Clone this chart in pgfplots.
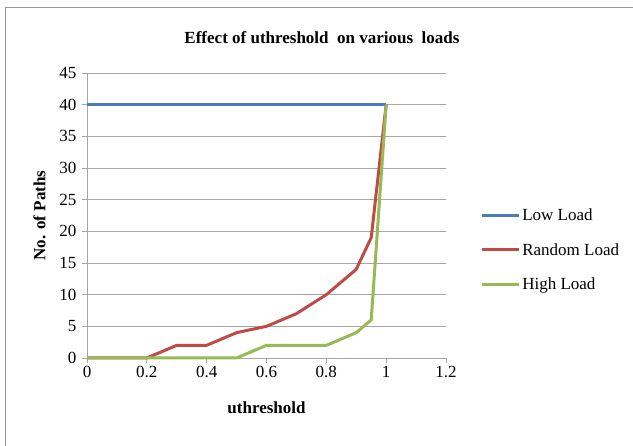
\documentclass[border=0pt]{standalone}
\usepackage{fontspec}
\setmainfont{Liberation Serif}
\usepackage{pgfplots}
\pgfplotsset{compat=1.18}
\definecolor{lowc}{HTML}{4A7EBB}
\definecolor{randc}{HTML}{BE4B48}
\definecolor{highc}{HTML}{98B954}
\begin{document}
\begin{tikzpicture}[x=1pt,y=1pt]
\useasboundingbox (0,0) rectangle (633,446);
\draw[gray!80, line width=1pt] (5,0) -- (5,438) -- (633,438);
\node[font=\fontsize{17}{19}\selectfont\bfseries] at (322,408) {Effect of uthreshold\ \ on various\ \ loads};
\begin{axis}[
  at={(87pt,88pt)}, anchor=south west,
  scale only axis, width=359pt, height=285pt,
  xmin=0, xmax=1.2, ymin=0, ymax=45,
  xtick={0,0.2,...,1.2}, ytick={0,5,...,45},
  xticklabels={0,0.2,0.4,0.6,0.8,1,1.2},
  ymajorgrids, major grid style={gray!70, line width=0.8pt},
  axis x line*=bottom, axis y line*=left,
  axis line style={gray!70, line width=0.8pt, -},
  tick style={gray!70, line width=0.8pt},
  tick align=outside, major tick length=5pt,
  ticklabel style={font=\fontsize{17}{19}\selectfont},
  yticklabel style={xshift=-2pt},
  /pgf/number format/assume math mode=true,
  xlabel={\bfseries uthreshold}, ylabel={\bfseries No. of Paths},
  label style={font=\fontsize{17}{19}\selectfont},
  xlabel style={yshift=-17pt},
  ylabel style={yshift=7pt},
  legend style={at={(1.095,0.379)}, anchor=west, draw=none, fill=none,
    font=\fontsize{17}{19}\selectfont, row sep=17pt, inner sep=0pt},
  legend cell align=left,
  legend image code/.code={\draw[#1, line width=3pt] (0pt,0pt) -- (37pt,0pt);},
  every axis plot/.append style={line width=3pt, no markers},
  clip=false,
]
\addplot[lowc] coordinates {(0,40) (0.1,40) (0.2,40) (0.3,40) (0.4,40) (0.5,40) (0.6,40) (0.7,40) (0.8,40) (0.9,40) (0.95,40) (1,40)};
\addlegendentry{Low Load}
\addplot[randc] coordinates {(0,0) (0.1,0) (0.2,0) (0.3,2) (0.4,2) (0.5,4) (0.6,5) (0.7,7) (0.8,10) (0.9,14) (0.95,19) (1,40)};
\addlegendentry{Random Load}
\addplot[highc] coordinates {(0,0) (0.1,0) (0.2,0) (0.3,0) (0.4,0) (0.5,0) (0.6,2) (0.7,2) (0.8,2) (0.9,4) (0.95,6) (1,40)};
\addlegendentry{High Load}
\end{axis}
\end{tikzpicture}
\end{document}
